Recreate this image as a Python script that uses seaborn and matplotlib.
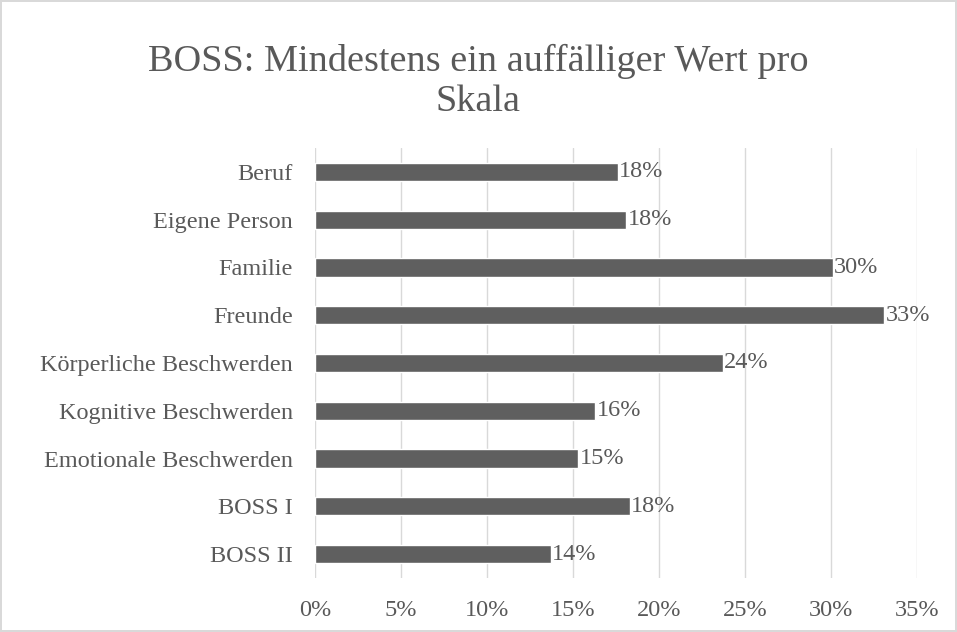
import seaborn as sns
import matplotlib.pyplot as plt
import pandas as pd
from matplotlib.ticker import PercentFormatter

# Anteil mit mindestens einem auffälligen Wert (in %)
skalen = ['Beruf', 'Eigene Person', 'Familie', 'Freunde', 'Körperliche Beschwerden',
          'Kognitive Beschwerden', 'Emotionale Beschwerden', 'BOSS I', 'BOSS II']
anteil = [17.6, 18.1, 30.1, 33.1, 23.7, 16.3, 15.3, 18.3, 13.7]

df = pd.DataFrame({'skala': skalen, 'anteil': anteil})

sns.set_theme(style='white')
plt.rcParams['font.family'] = ['Liberation Serif', 'DejaVu Serif']
grau = '#595959'

fig = plt.figure(figsize=(9.57, 6.32), dpi=100)
fig.patch.set_edgecolor('#d9d9d9')
fig.patch.set_linewidth(1.5)
ax = fig.add_axes([315 / 957, 1 - 578 / 632, (917 - 315) / 957, (578 - 148) / 632])

sns.barplot(data=df, x='anteil', y='skala', orient='h', color='#5f5f5f',
            saturation=1, width=0.38, ax=ax, zorder=3)

ax.bar_label(ax.containers[0], labels=[f'{round(v)}%' for v in anteil],
             padding=1, fontsize=17.5, color=grau)

ax.set_xlim(0, 35)
ax.set_xticks(range(0, 36, 5))
ax.xaxis.set_major_formatter(PercentFormatter(xmax=100, decimals=0))
ax.grid(axis='x', color='#d9d9d9', linewidth=1, zorder=0)
ax.tick_params(axis='both', length=0, labelsize=17.5, colors=grau)
ax.tick_params(axis='x', pad=16)
ax.tick_params(axis='y', pad=16)
for s in ax.spines.values():
    s.set_visible(False)
ax.set_xlabel('')
ax.set_ylabel('')

fig.suptitle('BOSS: Mindestens ein auffälliger Wert pro\nSkala', y=0.93,
             fontsize=27.5, color=grau, linespacing=1.2)

fig.savefig('out.png', dpi=100)
